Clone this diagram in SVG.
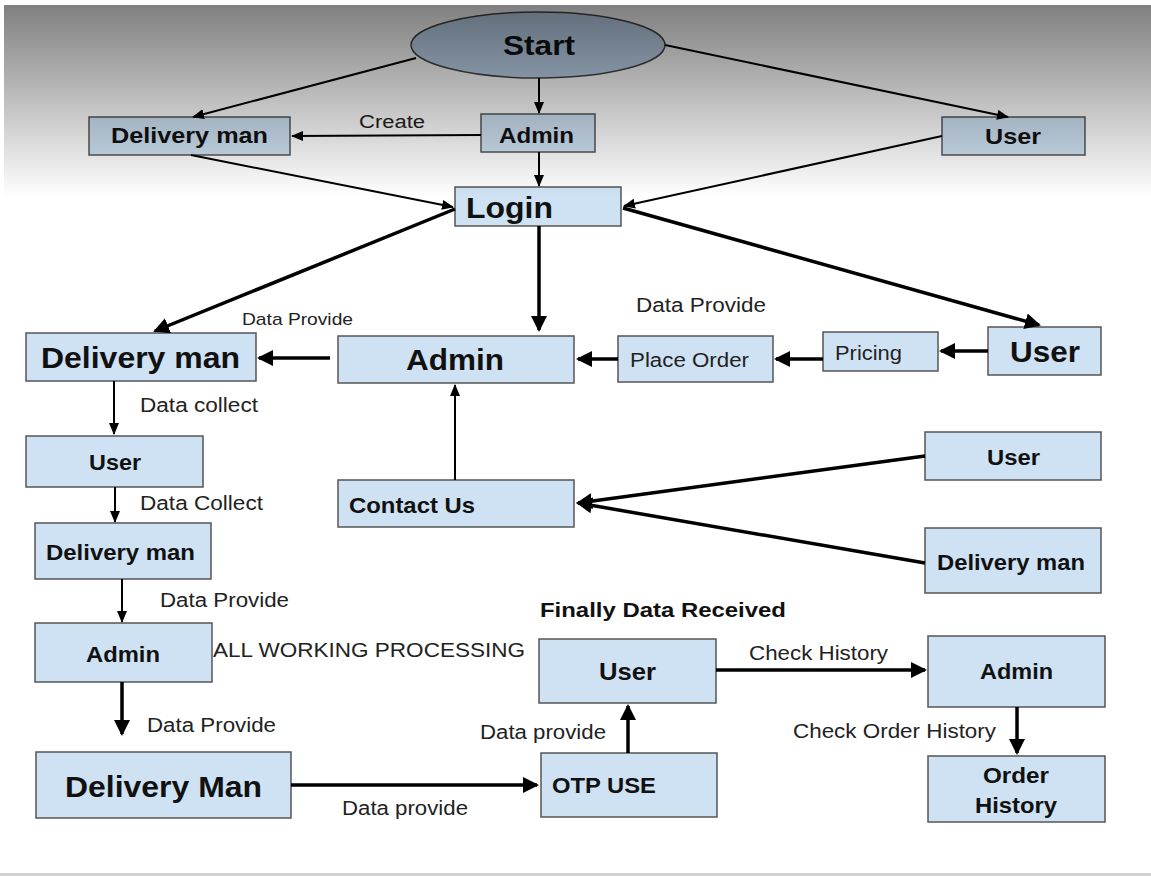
<svg xmlns="http://www.w3.org/2000/svg" width="1151" height="876" viewBox="0 0 1151 876">
<style>
.box{fill:#cfe2f3;stroke:#555;stroke-width:1.5}
.b{font-family:"Liberation Sans",Arial,sans-serif;font-weight:bold;fill:#111}
.r{font-family:"Liberation Sans",Arial,sans-serif;fill:#222}
.thin{stroke:#000;stroke-width:2;fill:none;marker-end:url(#ah)}
.thick{stroke:#000;stroke-width:3.5;fill:none;marker-end:url(#ahb)}
</style>
<defs>
<marker id="ah" markerUnits="userSpaceOnUse" markerWidth="14" markerHeight="12" refX="11" refY="5" orient="auto"><path d="M0,0 L12,5 L0,10 z" fill="#000"/></marker>
<marker id="ahb" markerUnits="userSpaceOnUse" markerWidth="18" markerHeight="18" refX="14" refY="8" orient="auto"><path d="M0,0 L16,8 L0,16 z" fill="#000"/></marker>
<linearGradient id="shade" x1="0" y1="0" x2="0" y2="1"><stop offset="0" stop-color="#000" stop-opacity="0.5"/><stop offset="1" stop-color="#000" stop-opacity="0"/></linearGradient>
</defs>
<rect width="1151" height="876" fill="#fff"/>

<g id="start"><ellipse cx="538" cy="45" rx="127" ry="33" fill="#c0d6ee" stroke="#444" stroke-width="1.5"/><text class="b" x="503" y="55" font-size="28" textLength="72" lengthAdjust="spacingAndGlyphs">Start</text></g>
<g id="dm_top"><rect class="box" x="89" y="117" width="201" height="38"/><text class="b" x="111" y="143" font-size="22" textLength="157" lengthAdjust="spacingAndGlyphs">Delivery man</text></g>
<g id="admin_top"><rect class="box" x="481" y="114" width="114" height="38"/><text class="b" x="499" y="143" font-size="22" textLength="75" lengthAdjust="spacingAndGlyphs">Admin</text></g>
<g id="user_top"><rect class="box" x="942" y="117" width="143" height="38"/><text class="b" x="985" y="144" font-size="22" textLength="56" lengthAdjust="spacingAndGlyphs">User</text></g>
<g id="login"><rect class="box" x="455" y="187" width="166" height="39"/><text class="b" x="466" y="218" font-size="30" textLength="87" lengthAdjust="spacingAndGlyphs">Login</text></g>
<g id="dm_big"><rect class="box" x="26" y="333" width="230" height="48"/><text class="b" x="41" y="368" font-size="29" textLength="199" lengthAdjust="spacingAndGlyphs">Delivery man</text></g>
<g id="admin_big"><rect class="box" x="338" y="336" width="236" height="47"/><text class="b" x="406" y="370" font-size="29" textLength="98" lengthAdjust="spacingAndGlyphs">Admin</text></g>
<g id="place_order"><rect class="box" x="618" y="336" width="155" height="46"/><text class="r" x="630" y="367" font-size="20" textLength="119" lengthAdjust="spacingAndGlyphs">Place Order</text></g>
<g id="pricing"><rect class="box" x="823" y="332" width="115" height="39"/><text class="r" x="835" y="360" font-size="20" textLength="67" lengthAdjust="spacingAndGlyphs">Pricing</text></g>
<g id="user_big"><rect class="box" x="988" y="327" width="113" height="48"/><text class="b" x="1010" y="362" font-size="29" textLength="70" lengthAdjust="spacingAndGlyphs">User</text></g>
<g id="user_left"><rect class="box" x="26" y="436" width="177" height="51"/><text class="b" x="89" y="470" font-size="22" textLength="52" lengthAdjust="spacingAndGlyphs">User</text></g>
<g id="contact_us"><rect class="box" x="338" y="480" width="236" height="47"/><text class="b" x="349" y="513" font-size="22" textLength="126" lengthAdjust="spacingAndGlyphs">Contact Us</text></g>
<g id="user_mid"><rect class="box" x="925" y="432" width="176" height="48"/><text class="b" x="987" y="465" font-size="22" textLength="53" lengthAdjust="spacingAndGlyphs">User</text></g>
<g id="dm_left"><rect class="box" x="35" y="523" width="176" height="56"/><text class="b" x="46" y="560" font-size="22" textLength="149" lengthAdjust="spacingAndGlyphs">Delivery man</text></g>
<g id="dm_mid"><rect class="box" x="925" y="528" width="176" height="65"/><text class="b" x="937" y="570" font-size="22" textLength="148" lengthAdjust="spacingAndGlyphs">Delivery man</text></g>
<g id="admin_left"><rect class="box" x="35" y="623" width="177" height="59"/><text class="b" x="86" y="662" font-size="22" textLength="74" lengthAdjust="spacingAndGlyphs">Admin</text></g>
<g id="user_bottom"><rect class="box" x="539" y="639" width="177" height="64"/><text class="b" x="599" y="680" font-size="24" textLength="57" lengthAdjust="spacingAndGlyphs">User</text></g>
<g id="admin_br"><rect class="box" x="928" y="636" width="177" height="71"/><text class="b" x="980" y="679" font-size="22" textLength="73" lengthAdjust="spacingAndGlyphs">Admin</text></g>
<g id="dm_bottom"><rect class="box" x="36" y="752" width="255" height="66"/><text class="b" x="65" y="797" font-size="29" textLength="197" lengthAdjust="spacingAndGlyphs">Delivery Man</text></g>
<g id="otp_use"><rect class="box" x="541" y="753" width="176" height="64"/><text class="b" x="552" y="793" font-size="22" textLength="104" lengthAdjust="spacingAndGlyphs">OTP USE</text></g>
<g id="order_history"><rect class="box" x="928" y="756" width="177" height="66"/><text class="b" x="983" y="783" font-size="22" textLength="66" lengthAdjust="spacingAndGlyphs">Order</text><text class="b" x="975" y="813" font-size="22" textLength="82" lengthAdjust="spacingAndGlyphs">History</text></g>

<g id="connectors">
<line class="thin" x1="416" y1="58" x2="193" y2="117"/>
<line class="thin" x1="539" y1="78" x2="539" y2="113"/>
<line class="thin" x1="665" y1="45" x2="1008" y2="117"/>
<line class="thin" x1="481" y1="135" x2="292" y2="136"/>
<line class="thin" x1="539" y1="152" x2="539" y2="186"/>
<line class="thin" x1="191" y1="155" x2="453" y2="207"/>
<line class="thin" x1="942" y1="136" x2="624" y2="206"/>
<line class="thin" x1="114" y1="381" x2="114" y2="434"/>
<line class="thin" x1="115" y1="487" x2="115" y2="522"/>
<line class="thin" x1="122" y1="579" x2="122" y2="622"/>
<line class="thin" x1="455" y1="480" x2="455" y2="385"/>
<line class="thick" x1="455" y1="209" x2="155" y2="331"/>
<line class="thick" x1="539" y1="226" x2="539" y2="330"/>
<line class="thick" x1="623" y1="208" x2="1039" y2="325"/>
<line class="thick" x1="988" y1="351" x2="941" y2="351"/>
<line class="thick" x1="823" y1="359" x2="776" y2="359"/>
<line class="thick" x1="618" y1="359" x2="578" y2="359"/>
<line class="thick" x1="330" y1="358" x2="259" y2="358"/>
<line class="thick" x1="925" y1="456" x2="578" y2="503"/>
<line class="thick" x1="925" y1="563" x2="578" y2="503"/>
<line class="thick" x1="122" y1="682" x2="122" y2="734"/>
<line class="thick" x1="291" y1="785" x2="537" y2="785"/>
<line class="thick" x1="628" y1="753" x2="628" y2="706"/>
<line class="thick" x1="716" y1="670" x2="925" y2="670" stroke-width="3"/>
<line class="thick" x1="1017" y1="707" x2="1017" y2="753" stroke-width="3"/>
</g>

<g id="labels">
<text class="r" x="359" y="128" font-size="18" textLength="66" lengthAdjust="spacingAndGlyphs">Create</text>
<text class="r" x="242" y="325" font-size="17" textLength="111" lengthAdjust="spacingAndGlyphs">Data Provide</text>
<text class="r" x="636" y="312" font-size="20" textLength="130" lengthAdjust="spacingAndGlyphs">Data Provide</text>
<text class="r" x="140" y="412" font-size="20" textLength="118" lengthAdjust="spacingAndGlyphs">Data collect</text>
<text class="r" x="140" y="510" font-size="20" textLength="123" lengthAdjust="spacingAndGlyphs">Data Collect</text>
<text class="r" x="160" y="607" font-size="20" textLength="129" lengthAdjust="spacingAndGlyphs">Data Provide</text>
<text class="r" x="213" y="657" font-size="21" textLength="312" lengthAdjust="spacingAndGlyphs">ALL WORKING PROCESSING</text>
<text class="r" x="147" y="732" font-size="20" textLength="129" lengthAdjust="spacingAndGlyphs">Data Provide</text>
<text class="r" x="342" y="815" font-size="20" textLength="126" lengthAdjust="spacingAndGlyphs">Data provide</text>
<text class="r" x="480" y="739" font-size="20" textLength="126" lengthAdjust="spacingAndGlyphs">Data provide</text>
<text class="b" x="540" y="617" font-size="21" textLength="246" lengthAdjust="spacingAndGlyphs">Finally Data Received</text>
<text class="r" x="749" y="660" font-size="20" textLength="139" lengthAdjust="spacingAndGlyphs">Check History</text>
<text class="r" x="793" y="738" font-size="20" textLength="203" lengthAdjust="spacingAndGlyphs">Check Order History</text>
</g>

<rect x="4" y="5" width="1147" height="192" fill="url(#shade)"/>
<rect x="0" y="873" width="1151" height="3" fill="#d0d0d0"/>
</svg>
